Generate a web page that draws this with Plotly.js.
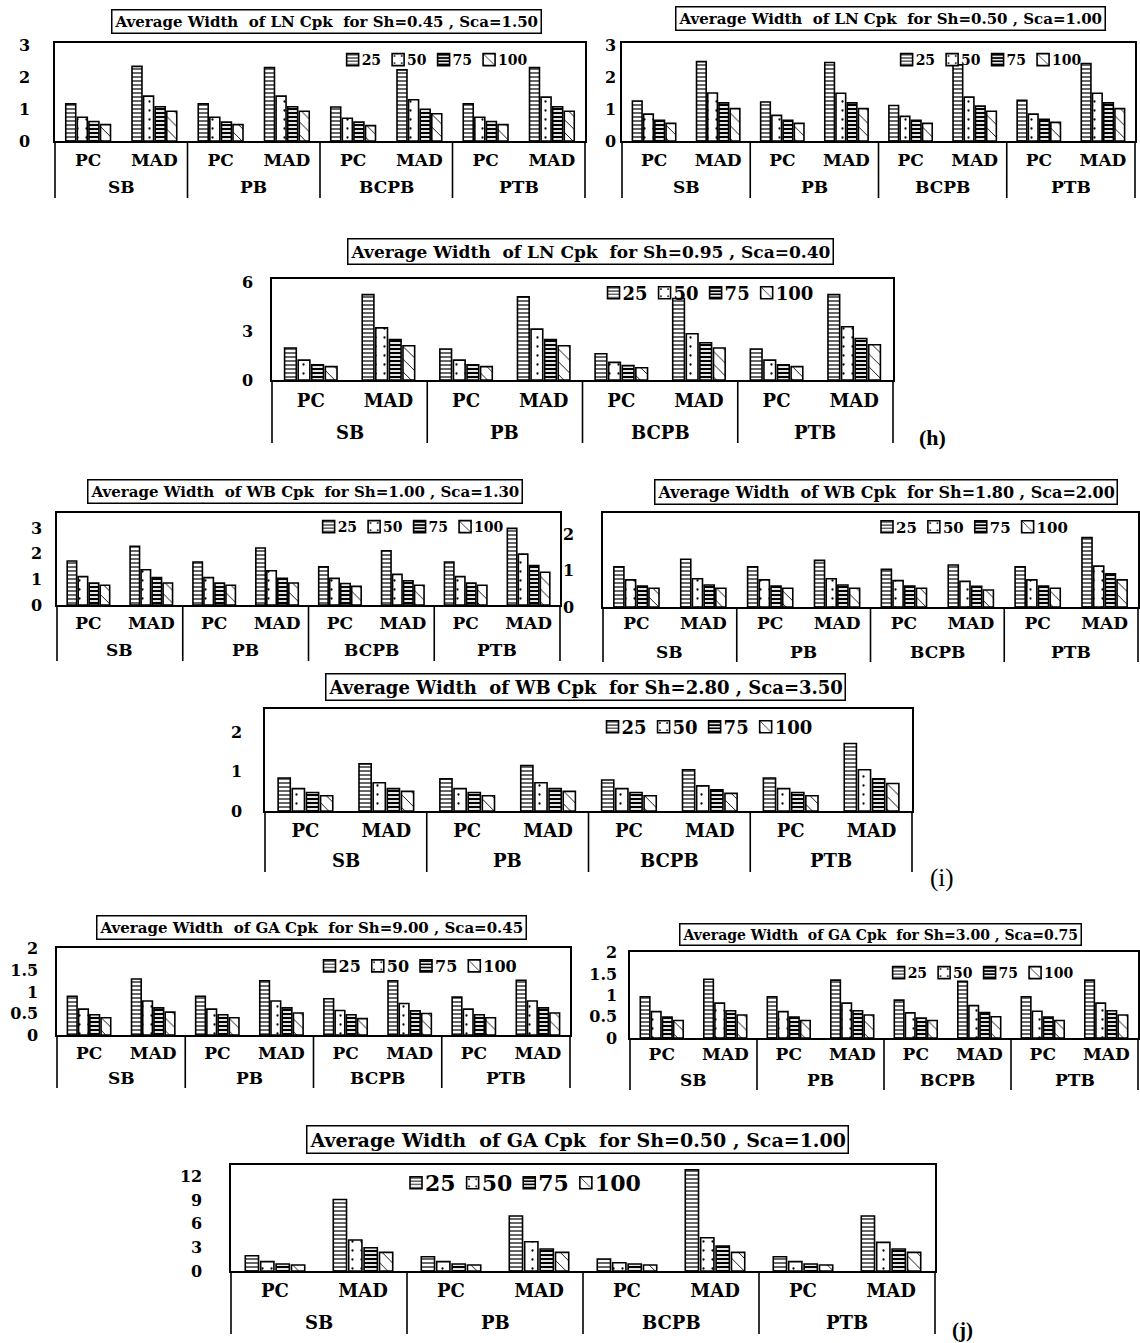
<!DOCTYPE html>
<html><head><meta charset="utf-8">
<script src="https://cdn.plot.ly/plotly-3.0.1.min.js"></script>
<style>body{margin:0;background:#fff}#chart{width:1140px;height:1343px}</style>
</head><body><div id="chart"></div>
<script>
// ---- categories ----
const groups  = ['SB','SB','PB','PB','BCPB','BCPB','PTB','PTB'];
const methods = ['PC','MAD','PC','MAD','PC','MAD','PC','MAD'];
const sampleSizes = ['25','50','75','100'];

// ---- LN, Sh=0.45, Sca=1.50 ----
const ln045_n25  = [1.16,2.33,1.16,2.29,1.06,2.22,1.16,2.29];
const ln045_n50  = [0.74,1.40,0.74,1.40,0.71,1.29,0.74,1.37];
const ln045_n75  = [0.61,1.07,0.59,1.07,0.59,0.99,0.61,1.07];
const ln045_n100 = [0.51,0.93,0.51,0.93,0.48,0.85,0.51,0.93];
// ---- LN, Sh=0.50, Sca=1.00 ----
const ln050_n25  = [1.25,2.48,1.22,2.45,1.11,2.38,1.27,2.42];
const ln050_n50  = [0.84,1.50,0.80,1.49,0.77,1.37,0.84,1.49];
const ln050_n75  = [0.65,1.19,0.65,1.19,0.65,1.09,0.68,1.19];
const ln050_n100 = [0.55,1.01,0.55,1.01,0.55,0.93,0.58,1.01];
// ---- LN, Sh=0.95, Sca=0.40 ----
const ln095_n25  = [1.96,5.24,1.90,5.10,1.61,5.00,1.90,5.24];
const ln095_n50  = [1.22,3.20,1.22,3.12,1.08,2.84,1.22,3.27];
const ln095_n75  = [0.94,2.49,0.94,2.49,0.88,2.29,0.94,2.55];
const ln095_n100 = [0.82,2.10,0.82,2.10,0.75,1.96,0.82,2.16];
// ---- WB, Sh=1.00, Sca=1.30 ----
const wb100_n25  = [1.72,2.30,1.68,2.23,1.49,2.12,1.68,3.00];
const wb100_n50  = [1.11,1.38,1.07,1.34,1.04,1.20,1.11,1.99];
const wb100_n75  = [0.86,1.07,0.86,1.04,0.84,0.95,0.86,1.54];
const wb100_n100 = [0.77,0.86,0.77,0.86,0.73,0.77,0.77,1.28];
// ---- WB, Sh=1.80, Sca=2.00 ----
const wb180_n25  = [1.11,1.32,1.11,1.29,1.04,1.16,1.11,1.92];
const wb180_n50  = [0.75,0.78,0.75,0.78,0.73,0.71,0.75,1.13];
const wb180_n75  = [0.58,0.61,0.58,0.61,0.58,0.57,0.58,0.92];
const wb180_n100 = [0.52,0.52,0.52,0.52,0.52,0.47,0.52,0.75];
// ---- WB, Sh=2.80, Sca=3.50 ----
const wb280_n25  = [0.84,1.20,0.82,1.16,0.79,1.05,0.84,1.72];
const wb280_n50  = [0.57,0.72,0.57,0.72,0.57,0.64,0.57,1.05];
const wb280_n75  = [0.47,0.57,0.47,0.57,0.47,0.54,0.47,0.82];
const wb280_n100 = [0.39,0.50,0.39,0.50,0.39,0.45,0.39,0.70];
// ---- GA, Sh=9.00, Sca=0.45 ----
const ga900_n25  = [0.90,1.30,0.90,1.26,0.84,1.26,0.88,1.27];
const ga900_n50  = [0.60,0.79,0.60,0.79,0.57,0.73,0.60,0.79];
const ga900_n75  = [0.47,0.63,0.47,0.63,0.47,0.56,0.47,0.63];
const ga900_n100 = [0.40,0.53,0.40,0.51,0.38,0.50,0.40,0.51];
// ---- GA, Sh=3.00, Sca=0.75 ----
const ga300_n25  = [0.97,1.38,0.97,1.36,0.89,1.33,0.97,1.36];
const ga300_n50  = [0.62,0.82,0.62,0.82,0.59,0.76,0.63,0.82];
const ga300_n75  = [0.49,0.64,0.49,0.64,0.47,0.60,0.49,0.64];
const ga300_n100 = [0.41,0.54,0.41,0.54,0.41,0.50,0.41,0.54];
// ---- GA, Sh=0.50, Sca=1.00 ----
const ga050_n25  = [1.95,9.10,1.82,7.00,1.53,12.90,1.82,7.00];
const ga050_n50  = [1.19,3.94,1.19,3.73,1.06,4.24,1.19,3.64];
const ga050_n75  = [0.89,2.97,0.89,2.80,0.89,3.18,0.89,2.80];
const ga050_n100 = [0.76,2.37,0.76,2.37,0.76,2.37,0.76,2.37];

// ---- titles and y ticks ----
const titles = [
  'Average Width \u00a0of LN Cpk \u00a0for Sh=0.45 , Sca=1.50',
  'Average Width \u00a0of LN Cpk \u00a0for Sh=0.50 , Sca=1.00',
  'Average Width \u00a0of LN Cpk \u00a0for Sh=0.95 , Sca=0.40',
  'Average Width \u00a0of WB Cpk \u00a0for Sh=1.00 , Sca=1.30',
  'Average Width \u00a0of WB Cpk \u00a0for Sh=1.80 , Sca=2.00',
  'Average Width \u00a0of WB Cpk \u00a0for Sh=2.80 , Sca=3.50',
  'Average Width \u00a0of GA Cpk \u00a0for Sh=9.00 , Sca=0.45',
  'Average Width \u00a0of GA Cpk \u00a0for Sh=3.00 , Sca=0.75',
  'Average Width \u00a0of GA Cpk \u00a0for Sh=0.50 , Sca=1.00'
];
const yTicks3 = [0,1,2,3];
const yTicks6 = [0,3,6];
const yTicks2 = [0,1,2];
const yTicksHalf = [0,0.5,1,1.5,2];
const yTickTextHalf = ['0','0.5','1','1.5','2'];
const yTicks12 = [0,3,6,9,12];
const panelLabels = ['(h)','(i)','(j)'];

const seriesData = [
  [ln045_n25, ln045_n50, ln045_n75, ln045_n100],
  [ln050_n25, ln050_n50, ln050_n75, ln050_n100],
  [ln095_n25, ln095_n50, ln095_n75, ln095_n100],
  [wb100_n25, wb100_n50, wb100_n75, wb100_n100],
  [wb180_n25, wb180_n50, wb180_n75, wb180_n100],
  [wb280_n25, wb280_n50, wb280_n75, wb280_n100],
  [ga900_n25, ga900_n50, ga900_n75, ga900_n100],
  [ga300_n25, ga300_n50, ga300_n75, ga300_n100],
  [ga050_n25, ga050_n50, ga050_n75, ga050_n100]
];
const tickSets = [yTicks3, yTicks3, yTicks6, yTicks3, yTicks2, yTicks2, yTicksHalf, yTicksHalf, yTicks12];

// ---- layout geometry (pixels) ----
const W = 1140, H = 1343;
const FONT = 'DejaVu Serif';
// box: [left, right, top, zero-line]; rows: [tick label standoff, group label centre y, divider bottom y]
const geo = [
  {box:[55,585,43,141],    ymax:3.06, title:[326,21,15],  leg:[433,60,14],   std:20, tf:16, cf:17, rows:[3,187,198]},
  {box:[622,1135,43,141],  ymax:3.06, title:[890,19,15],  leg:[987,60,14],   std:1,  tf:16, cf:17, rows:[3,187,198]},
  {box:[272,893,279,380],  ymax:6.2,  title:[591,252,17], leg:[706,293,18],  std:14, tf:16, cf:18, rows:[4,432,443]},
  {box:[57,560,513,605],   ymax:3.6,  title:[305,492,15], leg:[409,527,14],  std:10, tf:16, cf:17, rows:[2,650,661]},
  {box:[603,1138,513,607], ymax:2.6,  title:[886,492,16], leg:[970,527,15],  std:24, tf:16, cf:17, rows:[0,652,662]},
  {box:[265,912,709,811],  ymax:2.6,  title:[585,687,18], leg:[705,727,18],  std:18, tf:16, cf:18, rows:[3,860,872]},
  {box:[57,570,948,1035],  ymax:2.02, title:[311,927,15], leg:[416,966,16],  std:14, tf:16, cf:17, rows:[2,1078,1088]},
  {box:[630,1138,952,1038],ymax:2.02, title:[880,934,14], leg:[979,973,14],  std:8,  tf:16, cf:17, rows:[0,1080,1090]},
  {box:[231,935,1165,1271],ymax:13.5, title:[577,1139,19],leg:[521,1183,22], std:24, tf:16, cf:18, rows:[3,1322,1334]}
];

const patterns = [
  {shape:'-',  size:4, solidity:0.3},
  {shape:'.',  size:9, solidity:0.05},
  {shape:'-',  size:4, solidity:0.55},
  {shape:'\\', size:9, solidity:0.1}
];

const cats = groups.map((g, i) => g + ' ' + methods[i]);

const traces = [];
const layout = {
  width: W, height: H,
  margin: {l:0, r:0, t:0, b:0},
  paper_bgcolor: 'white', plot_bgcolor: 'white',
  barmode: 'group', bargap: 0.3, bargroupgap: 0.14,
  font: {family: FONT, color: 'black'},
  showlegend: true,
  annotations: [], shapes: []
};

// group boundaries / centres from the category arrays
const boundaries = [-0.5];
groups.forEach((g, i) => { if (i > 0 && g !== groups[i - 1]) boundaries.push(i - 0.5); });
boundaries.push(groups.length - 0.5);
const groupNames = [], groupCentres = [];
groups.forEach((g, i) => {
  const idx = groupNames.indexOf(g);
  if (idx < 0) { groupNames.push(g); groupCentres.push([i]); } else groupCentres[idx].push(i);
});

seriesData.forEach((series, i) => {
  const k = i === 0 ? '' : String(i + 1);
  const g = geo[i];
  series.forEach((vals, j) => {
    traces.push({
      type: 'bar', x: cats, y: vals, name: sampleSizes[j],
      xaxis: 'x' + k, yaxis: 'y' + k, legend: 'legend' + k,
      hoverinfo: 'skip',
      marker: {color: 'white', line: {color: 'black', width: 1.6},
        pattern: Object.assign({}, patterns[j], {fgcolor: 'black', bgcolor: 'white', fillmode: 'replace'})}
    });
  });
  const [x0, x1, y0, y1] = g.box;
  layout['xaxis' + k] = {
    type: 'category', domain: [x0 / W, x1 / W], anchor: 'y' + k,
    categoryorder: 'array', categoryarray: cats,
    tickmode: 'array', tickvals: cats, ticktext: methods,
    showline: true, mirror: true, linecolor: 'black', linewidth: 1.6,
    ticks: '', showgrid: false, fixedrange: true, ticklabelstandoff: g.rows[0],
    tickfont: {family: FONT, size: g.cf, color: 'black', weight: 'bold'}
  };
  const ya = {
    domain: [1 - y1 / H, 1 - y0 / H], anchor: 'x' + k, range: [0, g.ymax],
    tickmode: 'array', tickvals: tickSets[i],
    showline: true, mirror: true, linecolor: 'black', linewidth: 1.6,
    ticks: '', showgrid: false, zeroline: false, fixedrange: true,
    ticklabelstandoff: g.std,
    tickfont: {family: FONT, size: g.tf, color: 'black', weight: 'bold'}
  };
  if (tickSets[i] === yTicksHalf) ya.ticktext = yTickTextHalf;
  layout['yaxis' + k] = ya;
  layout['legend' + k] = {
    orientation: 'h', x: g.leg[0] / W, y: 1 - g.leg[1] / H,
    xanchor: 'center', yanchor: 'middle', traceorder: 'normal',
    bgcolor: 'rgba(0,0,0,0)', itemwidth: 30,
    font: {family: FONT, size: g.leg[2], color: 'black', weight: 'bold'}
  };
  // boxed title
  layout.annotations.push({
    xref: 'paper', yref: 'paper', x: g.title[0] / W, y: 1 - g.title[1] / H,
    xanchor: 'center', yanchor: 'middle', showarrow: false,
    text: titles[i], bordercolor: 'black', borderwidth: 1.5, borderpad: 2, bgcolor: 'white',
    font: {family: FONT, size: g.title[2], color: 'black', weight: 'bold'}
  });
  // outer category labels
  groupNames.forEach((name, gi) => {
    const idxs = groupCentres[gi];
    layout.annotations.push({
      xref: 'x' + k, yref: 'paper',
      x: (idxs[0] + idxs[idxs.length - 1]) / 2, y: 1 - g.rows[1] / H,
      xanchor: 'center', yanchor: 'middle', showarrow: false, text: name,
      font: {family: FONT, size: g.cf, color: 'black', weight: 'bold'}
    });
  });
  // group dividers below the axis
  boundaries.forEach(b => {
    const fx = (b + 0.5) / groups.length;
    layout.shapes.push({
      type: 'line', xref: 'x' + k + ' domain', yref: 'paper',
      x0: fx, x1: fx, y0: 1 - y1 / H, y1: 1 - g.rows[2] / H,
      line: {color: 'black', width: 1.6}
    });
  });
});

const labelPos = [[932,437,true,22],[942,878,false,25],[962,1330,true,21]];
panelLabels.forEach((t, i) => {
  layout.annotations.push({
    xref: 'paper', yref: 'paper', x: labelPos[i][0] / W, y: 1 - labelPos[i][1] / H,
    xanchor: 'center', yanchor: 'middle', showarrow: false, text: t,
    font: {family: 'Liberation Serif', size: labelPos[i][3], color: 'black', weight: labelPos[i][2] ? 'bold' : 'normal'}
  });
});

// compact the legends: swatch directly followed by its label, as in the original
const measureCanvas = document.createElement('canvas').getContext('2d');
function textWidth(str, size) {
  measureCanvas.font = 'bold ' + size + 'px "' + FONT + '"';
  return measureCanvas.measureText(str).width;
}
function legendContainer(el) {
  let p = el.parentNode;
  while (p && p.getAttribute) {
    const c = (p.getAttribute('class') || '').trim();
    if (/^legend\d*$/.test(c)) return p;
    p = p.parentNode;
  }
  return null;
}
function compactLegends(gd) {
  const byLegend = new Map();
  gd.querySelectorAll('g.traces').forEach(it => {
    const leg = legendContainer(it);
    if (!leg) return;
    if (!byLegend.has(leg)) byLegend.set(leg, []);
    byLegend.get(leg).push(it);
  });
  byLegend.forEach((items, leg) => {
    const cls = (leg.getAttribute('class') || '').trim();
    const n = cls === 'legend' ? 1 : parseInt(cls.slice(6), 10);
    const size = geo[n - 1] ? geo[n - 1].leg[2] : 14;
    const parse = el => {
      const m = /translate\(\s*([-\d.e]+)[ ,]+([-\d.e]+)\s*\)/.exec(el.getAttribute('transform') || '');
      return m ? [parseFloat(m[1]), parseFloat(m[2])] : [0, 0];
    };
    const info = items.map(it => {
      const t = it.querySelector('text');
      const str = t ? t.textContent : '';
      return {it, t, pos: parse(it), tw: textWidth(str, size)};
    });
    if (info.some(d => !d.t)) return;
    info.sort((a, b) => a.pos[0] - b.pos[0]);
    const last = info[info.length - 1];
    const oldL = info[0].pos[0] + 14, oldR = last.pos[0] + 40 + last.tw;
    const centre = (oldL + oldR) / 2;
    const textX = 29, gap = 11;
    const newPos = [];
    let x = 0;
    info.forEach(d => { newPos.push(x); x += textX + d.tw + gap - 14; });
    const newL = 14, newR = newPos[newPos.length - 1] + textX + last.tw;
    const shift = centre - (newL + newR) / 2;
    info.forEach((d, i) => {
      d.t.setAttribute('x', textX);
      d.t.querySelectorAll('tspan').forEach(s => { if (s.hasAttribute('x')) s.setAttribute('x', textX); });
      d.it.setAttribute('transform', 'translate(' + (newPos[i] + shift) + ',' + d.pos[1] + ')');
    });
  });
}

Plotly.newPlot('chart', traces, layout, {staticPlot: true, displayModeBar: false}).then(compactLegends);
</script>
</body></html>
